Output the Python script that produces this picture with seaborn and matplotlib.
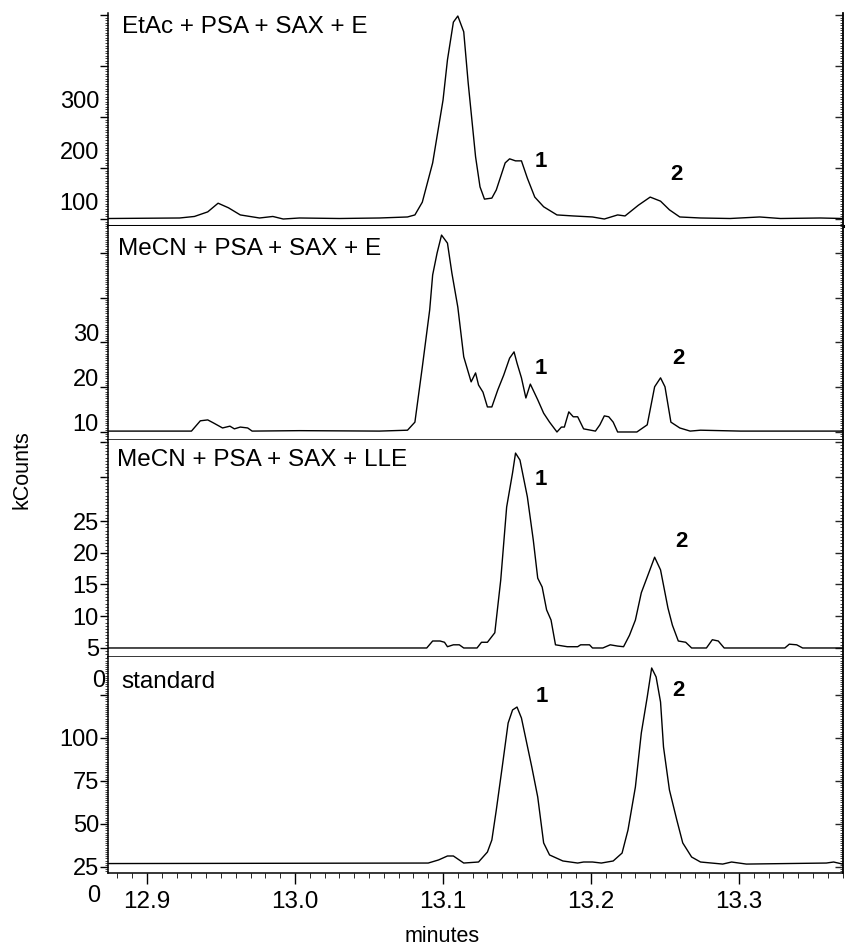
import numpy as np
import pandas as pd
import matplotlib
matplotlib.use("Agg")
import matplotlib.pyplot as plt
import matplotlib.transforms as mtransforms
from matplotlib.ticker import MultipleLocator
import seaborn as sns

# ---------------- data ----------------
titles = ["EtAc + PSA + SAX + E", "MeCN + PSA + SAX + E",
          "MeCN + PSA + SAX + LLE", "standard"]

t1 = [12.874, 12.922, 12.932, 12.941, 12.948, 12.955, 12.963, 12.976, 12.985, 12.992,
      13.003, 13.030, 13.057, 13.076, 13.081, 13.086, 13.093, 13.100, 13.103, 13.107,
      13.110, 13.114, 13.117, 13.122, 13.125, 13.128, 13.133, 13.136, 13.142, 13.145,
      13.149, 13.153, 13.157, 13.162, 13.168, 13.177, 13.188, 13.201, 13.209, 13.218,
      13.223, 13.232, 13.240, 13.247, 13.253, 13.260, 13.274, 13.294, 13.314, 13.328,
      13.355, 13.370]
k1 = [101, 102, 105, 114, 131, 122, 108, 102, 105, 100,
      102, 101, 102, 104, 108, 133, 210, 333, 412, 486,
      498, 467, 367, 222, 163, 139, 141, 157, 210, 218,
      214, 214, 180, 143, 124, 108, 106, 104, 100, 108,
      106, 127, 143, 135, 118, 104, 102, 101, 104, 101,
      102, 101]

t2 = [12.874, 12.930, 12.936, 12.941, 12.945, 12.951, 12.956, 12.959, 12.963, 12.968,
      12.971, 13.003, 13.057, 13.076, 13.081, 13.086, 13.091, 13.093, 13.096, 13.099,
      13.103, 13.106, 13.110, 13.114, 13.119, 13.122, 13.124, 13.127, 13.130, 13.133,
      13.137, 13.141, 13.145, 13.148, 13.150, 13.153, 13.156, 13.159, 13.164, 13.168,
      13.172, 13.177, 13.180, 13.182, 13.185, 13.188, 13.191, 13.195, 13.203, 13.206,
      13.209, 13.212, 13.215, 13.218, 13.231, 13.238, 13.243, 13.247, 13.250, 13.254,
      13.260, 13.267, 13.274, 13.301, 13.370]
k2 = [10.2, 10.2, 12.5, 12.7, 12.0, 10.9, 11.3, 10.7, 11.1, 10.9,
      10.2, 10.3, 10.2, 10.4, 12.2, 24.5, 37.3, 45.1, 50.0, 54.0,
      52.2, 45.5, 37.9, 26.8, 21.2, 23.2, 20.5, 18.9, 15.6, 15.6,
      19.4, 22.7, 26.5, 27.9, 25.4, 22.1, 17.6, 20.7, 17.2, 14.2,
      12.2, 10.0, 11.1, 11.1, 14.5, 13.4, 13.4, 10.7, 10.2, 11.6,
      13.6, 13.4, 12.2, 10.0, 10.0, 11.6, 20.1, 22.1, 20.1, 12.2,
      10.9, 10.2, 10.4, 10.2, 10.2]

t3 = [12.874, 13.089, 13.093, 13.098, 13.101, 13.103, 13.107, 13.111, 13.114, 13.123,
      13.126, 13.130, 13.135, 13.139, 13.143, 13.147, 13.149, 13.152, 13.157, 13.161,
      13.164, 13.167, 13.170, 13.173, 13.176, 13.184, 13.191, 13.193, 13.199, 13.201,
      13.208, 13.213, 13.218, 13.222, 13.226, 13.230, 13.234, 13.239, 13.243, 13.247,
      13.252, 13.255, 13.259, 13.264, 13.268, 13.278, 13.282, 13.286, 13.290, 13.331,
      13.334, 13.339, 13.343, 13.370]
k3 = [5.0, 5.0, 6.1, 6.1, 5.9, 5.2, 5.5, 5.5, 5.0, 5.0,
      5.9, 5.9, 7.4, 15.7, 27.2, 32.6, 35.7, 34.6, 28.8, 22.0,
      16.0, 14.6, 11.0, 9.4, 5.5, 5.2, 5.2, 5.5, 5.5, 5.0,
      5.0, 5.5, 5.3, 5.2, 7.0, 9.4, 13.7, 16.8, 19.3, 17.3,
      11.3, 8.6, 6.1, 5.9, 5.0, 5.0, 6.3, 6.1, 5.0, 5.0,
      5.6, 5.5, 5.0, 5.0]

t4 = [12.874, 13.090, 13.097, 13.103, 13.107, 13.114, 13.124, 13.130, 13.133, 13.136,
      13.140, 13.144, 13.147, 13.150, 13.153, 13.160, 13.164, 13.168, 13.172, 13.181,
      13.191, 13.195, 13.201, 13.207, 13.215, 13.221, 13.225, 13.230, 13.234, 13.238,
      13.241, 13.244, 13.247, 13.249, 13.253, 13.258, 13.262, 13.268, 13.274, 13.289,
      13.295, 13.305, 13.359, 13.364, 13.370]
k4 = [27.0, 27.3, 29.1, 31.4, 31.4, 27.3, 27.9, 33.7, 40.7, 58.1,
      83.1, 108.7, 116.3, 118.0, 111.6, 83.1, 65.7, 39.0, 32.0, 28.5,
      27.3, 27.9, 27.9, 27.3, 28.5, 33.1, 46.5, 71.5, 102.9, 123.8,
      140.7, 135.5, 120.9, 94.8, 69.8, 52.3, 39.0, 30.8, 27.9, 26.7,
      27.9, 26.7, 27.3, 27.9, 26.7]

# peak labels
peak_names = ["1", "2"]
peak_t = [[13.166, 13.258], [13.166, 13.259], [13.166, 13.261], [13.167, 13.259]]
peak_k = [[211.8, 188.0], [24.1, 26.5], [31.5, 21.7], [124.4, 127.9]]

# y ticks per panel
ytick_vals = [[100, 200, 300, 400, 500],
              [10, 20, 30, 40, 50],
              [5, 10, 15, 20, 25, 31.93, 37.44],
              [25, 50, 75, 100, 125]]
ytick_labels = [["100", "200", "300", "", ""],
                ["10", "20", "30", "", ""],
                ["5", "10", "15", "20", "25", "", ""],
                ["25", "50", "75", "100", ""]]
minor_steps = [5, 0.5, 0.5, 1.25]
xticks = [12.9, 13.0, 13.1, 13.2, 13.3]
xtick_labels = ["12.9", "13.0", "13.1", "13.2", "13.3"]

series_t = [t1, t2, t3, t4]
series_k = [k1, k2, k3, k4]

# ---------------- layout ----------------
sns.set_style("ticks")
plt.rcParams["font.family"] = ["Liberation Sans", "DejaVu Sans"]
plt.rcParams["text.color"] = "black"
plt.rcParams["axes.labelcolor"] = "black"

W, H = 847, 950
L, R = 108, 843
bounds = [13, 226, 440, 657, 873]
ylims = [(86.3, 503.9), (8.21, 56.03), (3.58, 37.76), (21.51, 147.09)]
label_shift_px = [18, 9.5, 0, 0]
title_pos = [(0.019, 0.906), (0.0136, 0.864), (0.012, 0.880), (0.0177, 0.856)]
divider_lw = [2.2, 1.1, 1.1, 1.1]
xlim = (12.8736, 13.3703)

fig = plt.figure(figsize=(W / 100, H / 100), dpi=100)
axes = []
for i in range(4):
    top, bot = bounds[i], bounds[i + 1]
    ax = fig.add_axes([L / W, 1 - bot / H, (R - L) / W, (bot - top) / H])
    axes.append(ax)
    df = pd.DataFrame({"t": series_t[i], "k": series_k[i]})
    sns.lineplot(data=df, x="t", y="k", ax=ax, color="black", lw=1.0,
                 estimator=None, sort=False)
    ax.set_xlim(*xlim)
    ax.set_ylim(*ylims[i])
    ax.set_xlabel("")
    ax.set_ylabel("")

    for s in ["left", "right"]:
        ax.spines[s].set_linewidth(1.1)
        ax.spines[s].set_color("black")
    ax.spines["top"].set_visible(False)
    ax.spines["bottom"].set_linewidth(divider_lw[i])
    ax.spines["bottom"].set_color("black")

    ax.set_yticks(ytick_vals[i])
    ax.set_yticklabels(ytick_labels[i])
    ax.yaxis.set_minor_locator(MultipleLocator(minor_steps[i]))
    ax.tick_params(axis="y", which="major", direction="out", length=6, width=1,
                   pad=0.5, labelsize=17, colors="black", left=True, right=False)
    ax.tick_params(axis="y", which="minor", direction="out", length=2, width=0.6,
                   left=True, right=False)

    sec = ax.secondary_yaxis("right")
    sec.set_yticks(ytick_vals[i])
    sec.set_yticklabels([])
    sec.yaxis.set_minor_locator(MultipleLocator(minor_steps[i]))
    sec.tick_params(axis="y", which="major", direction="in", length=6, width=1)
    sec.tick_params(axis="y", which="minor", direction="in", length=2, width=0.6)
    sec.spines["right"].set_linewidth(1.1)

    if label_shift_px[i]:
        off = mtransforms.ScaledTranslation(0, label_shift_px[i] / 100, fig.dpi_scale_trans)
        for lab in ax.get_yticklabels():
            lab.set_transform(lab.get_transform() + off)

    if i < 3:
        ax.set_xticks([])
    else:
        ax.set_xticks(xticks)
        ax.set_xticklabels(xtick_labels)
        ax.xaxis.set_minor_locator(MultipleLocator(0.01))
        ax.tick_params(axis="x", which="major", direction="out", length=8, width=1,
                       pad=5, labelsize=17.5, colors="black")
        ax.tick_params(axis="x", which="minor", direction="out", length=3.5, width=0.7)

    ax.text(title_pos[i][0], title_pos[i][1], titles[i], transform=ax.transAxes,
            fontsize=17.5, ha="left", va="baseline", color="black")
    for name, pt, pk in zip(peak_names, peak_t[i], peak_k[i]):
        ax.text(pt, pk, name, fontsize=16, fontweight="heavy", ha="center",
                va="center", color="black")

# stray "0" labels of the original
axes[3].text(-0.004, 133, "0", transform=axes[3].get_yaxis_transform(),
             fontsize=17, ha="right", va="center", color="black")
fig.text(100 / W, 1 - 896 / H, "0", fontsize=17, ha="right", va="center", color="black")

fig.text(22 / W, 1 - 470 / H, "kCounts", rotation=90, fontsize=15.5,
         ha="center", va="center", color="black")
fig.text(442 / W, 1 - 937 / H, "minutes", fontsize=15.5, ha="center", va="center",
         color="black")

fig.savefig("out.png", dpi=100)
